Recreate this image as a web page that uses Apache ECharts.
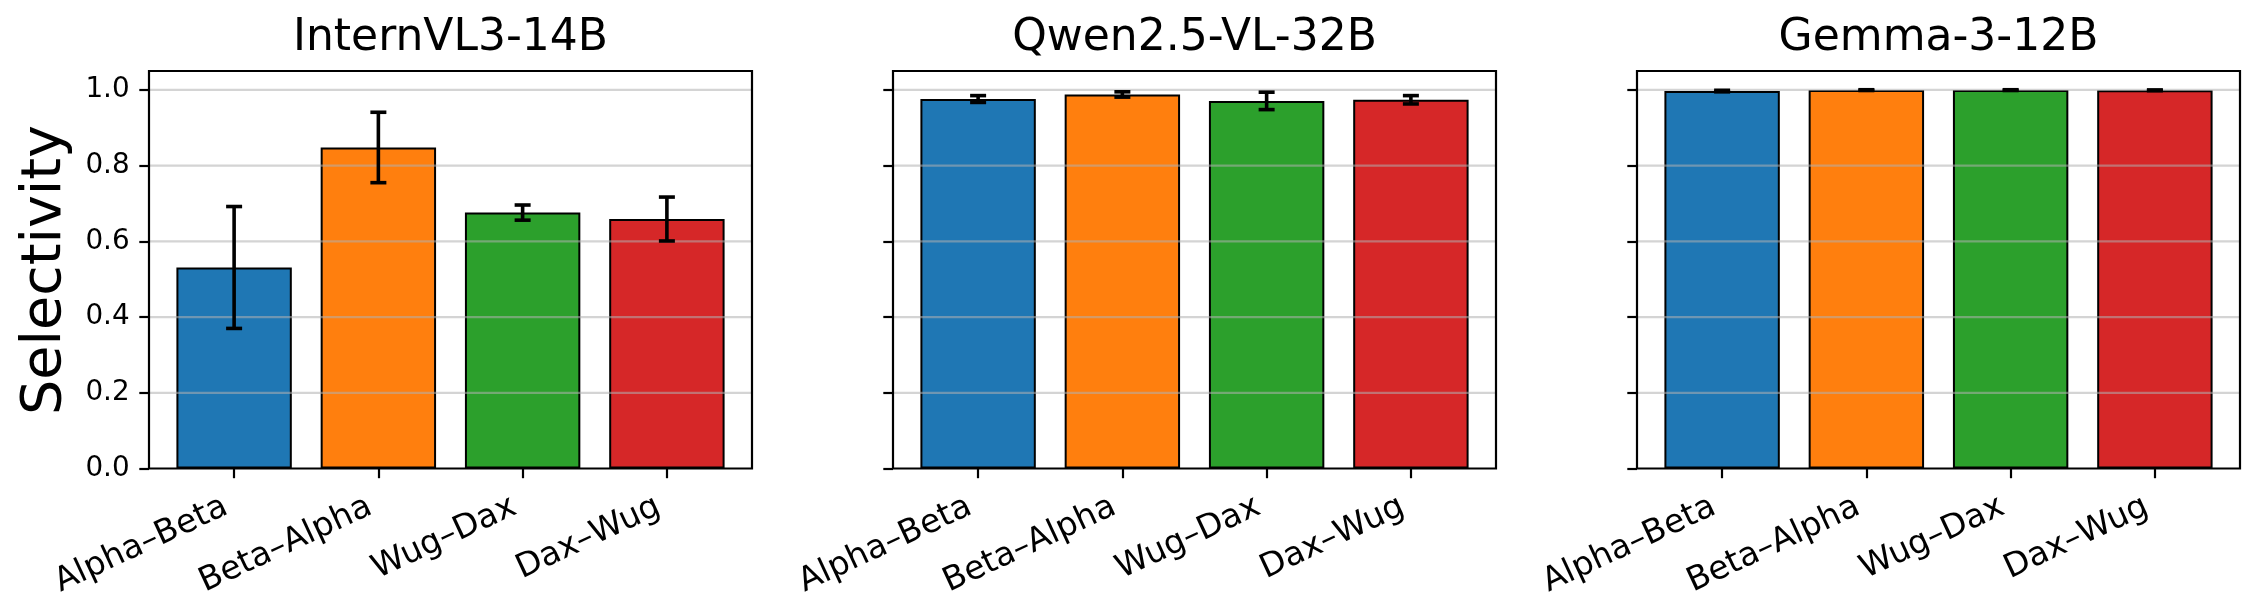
<!DOCTYPE html>
<html>
<head>
<meta charset="utf-8">
<title>Selectivity</title>
<script src="https://cdn.jsdelivr.net/npm/echarts@6.0.0/dist/echarts.min.js"></script>
<style>
  html,body{margin:0;padding:0;background:#fff;}
  #chart{width:2259px;height:610px;}
</style>
</head>
<body>
<div id="chart"></div>
<script>
"use strict";

// ---- data ----
var categories=['Alpha–Beta','Beta–Alpha','Wug–Dax','Dax–Wug'];
var models=['InternVL3-14B','Qwen2.5-VL-32B','Gemma-3-12B'];

var internMean=[0.531,0.848,0.676,0.659];
var internErr=[0.161,0.093,0.020,0.058];
var qwenMean=[0.976,0.988,0.971,0.974];
var qwenErr=[0.009,0.007,0.023,0.011];
var gemmaMean=[0.997,0.9995,0.9995,0.999];
var gemmaErr=[0.002,0.001,0.001,0.001];

var yTicks=[0,0.2,0.4,0.6,0.8,1.0];
var barColors=['#1f77b4','#ff7f0e','#2ca02c','#d62728'];

// ---- layout (matplotlib axes boxes, px) ----
var FONT='DejaVu Sans';
var frameLeft=[149,893,1637];
var frameTop=71;
var frameW=603;
var frameH=397.5;
var xPad=0.09/4.18*frameW;   // matplotlib puts 0.59 of a slot before the first bar
var yMax=1.05;

var means=[internMean,qwenMean,gemmaMean];
var errs=[internErr,qwenErr,gemmaErr];

var grids=[],xAxes=[],yAxes=[],series=[],graphics=[];

function gridLineItem(params,api){
  var cs=params.coordSys;
  var pad=0.09*cs.width/4;
  var y=api.coord([0,api.value(1)])[1];
  return {
    type:'line',
    shape:{x1:cs.x-pad,y1:y,x2:cs.x+cs.width+pad,y2:y},
    style:{stroke:'rgba(176,176,176,0.55)',lineWidth:2.2}
  };
}

function errorBarItem(params,api){
  var i=api.value(0);
  var m=api.value(1),e=api.value(2);
  var hi=api.coord([i,m+e]);
  var lo=api.coord([i,m-e]);
  var cap=8;
  var st={stroke:'#000',lineWidth:3.6};
  return {
    type:'group',
    children:[
      {type:'line',shape:{x1:hi[0],y1:hi[1],x2:lo[0],y2:lo[1]},style:st},
      {type:'line',shape:{x1:hi[0]-cap,y1:hi[1],x2:hi[0]+cap,y2:hi[1]},style:st},
      {type:'line',shape:{x1:lo[0]-cap,y1:lo[1],x2:lo[0]+cap,y2:lo[1]},style:st}
    ]
  };
}

models.forEach(function(name,k){
  grids.push({
    left:frameLeft[k]+xPad,
    top:frameTop,
    width:frameW-2*xPad,
    height:frameH,
    containLabel:false
  });

  xAxes.push({
    type:'category',
    gridIndex:k,
    data:categories,
    boundaryGap:true,
    axisLine:{show:false},
    axisTick:{show:true,alignWithLabel:true,length:9.7,lineStyle:{color:'#000',width:2.2}},
    axisLabel:{
      interval:0,hideOverlap:false,rotate:25,
      margin:33,padding:[0,9,0,0],
      color:'#000',fontFamily:FONT,fontSize:33
    },
    splitLine:{show:false}
  });

  yAxes.push({
    type:'value',
    gridIndex:k,
    min:0,max:yMax,
    offset:xPad,
    axisLine:{show:false},
    axisTick:{show:true,customValues:yTicks,length:9.7,lineStyle:{color:'#000',width:2.2}},
    axisLabel:{
      show:k===0,customValues:yTicks,margin:19.4,
      color:'#000',fontFamily:FONT,fontSize:27.8,
      formatter:function(v){return v.toFixed(1);}
    },
    splitLine:{show:false}
  });

  series.push({
    type:'bar',
    name:name,
    xAxisIndex:k,yAxisIndex:k,
    barWidth:'80%',
    z:2,
    data:means[k].map(function(v,i){
      return {value:v,itemStyle:{color:barColors[i],borderColor:'#000',borderWidth:2}};
    })
  });

  series.push({
    type:'custom',
    xAxisIndex:k,yAxisIndex:k,
    z:3,silent:true,
    renderItem:gridLineItem,
    data:yTicks.filter(function(v){return v>0;}).map(function(v){return [0,v];})
  });

  series.push({
    type:'custom',
    xAxisIndex:k,yAxisIndex:k,
    z:4,silent:true,
    renderItem:errorBarItem,
    data:categories.map(function(c,i){return [i,means[k][i],errs[k][i]];})
  });

  graphics.push({
    type:'rect',
    z:100,silent:true,
    shape:{x:frameLeft[k],y:frameTop,width:frameW,height:frameH},
    style:{fill:'none',stroke:'#000',lineWidth:2.2}
  });

  graphics.push({
    type:'text',
    x:frameLeft[k]+frameW/2,y:38.4,
    style:{text:name,fill:'#000',font:'44px "'+FONT+'"',align:'center',verticalAlign:'middle'}
  });
});

graphics.push({
  type:'text',
  x:46,y:270,rotation:Math.PI/2,
  style:{text:'Selectivity',fill:'#000',font:'55.6px "'+FONT+'"',align:'center',verticalAlign:'middle'}
});

var chart=echarts.init(document.getElementById('chart'),null,{renderer:'canvas'});
chart.setOption({
  backgroundColor:'#fff',
  animation:false,
  textStyle:{fontFamily:FONT},
  grid:grids,
  xAxis:xAxes,
  yAxis:yAxes,
  series:series,
  graphic:graphics
});
</script>
</body>
</html>
